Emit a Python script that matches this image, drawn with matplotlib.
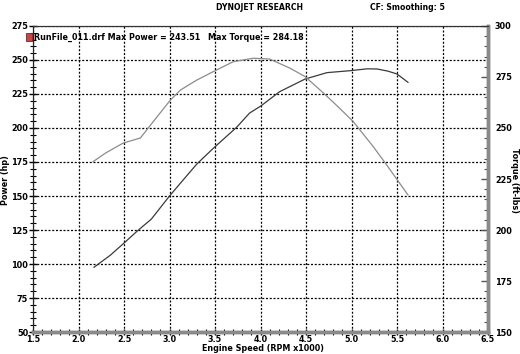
import matplotlib
matplotlib.use("Agg")
import matplotlib.pyplot as plt
from matplotlib.ticker import MultipleLocator

# courbe puissance (hp)
rpm_power = [2.17, 2.35, 2.5, 2.65, 2.8, 3.0, 3.15, 3.3, 3.48, 3.74, 3.88, 4.0, 4.21,
             4.49, 4.73, 4.98, 5.17, 5.28, 5.4, 5.5, 5.62]
power_hp = [97.6, 106.5, 115.4, 124.5, 133.0, 150.0, 161.8, 173.5, 185.0, 200.7, 211.0,
            216.0, 226.7, 236.0, 240.7, 242.1, 243.5, 243.4, 241.8, 239.7, 233.6]

# courbe couple (ft-lbs)
rpm_torque = [2.16, 2.3, 2.49, 2.68, 2.81, 3.01, 3.12, 3.3, 3.48, 3.7, 3.92, 4.1, 4.32,
              4.49, 4.69, 4.85, 5.02, 5.24, 5.36, 5.48, 5.62]
torque_ftlb = [233.5, 237.8, 242.6, 245.1, 252.5, 263.7, 268.6, 273.5, 277.6, 282.5, 284.2,
               283.8, 279.4, 275.2, 267.2, 260.5, 253.1, 240.8, 233.5, 226.0, 217.2]

fig = plt.figure(figsize=(5.2, 3.54), dpi=100)
ax = fig.add_axes([0.0635, 0.0621, 0.875, 0.8645])
ax2 = ax.twinx()

ax.plot(rpm_power, power_hp, color="#3a3a3a", lw=0.9)
ax2.plot(rpm_torque, torque_ftlb, color="#8c8c8c", lw=0.9)

ax.set_xlim(1.5, 6.5)
ax.set_ylim(50, 275)
ax2.set_ylim(150, 300)

ax.xaxis.set_major_locator(MultipleLocator(0.5))
ax.xaxis.set_minor_locator(MultipleLocator(0.1))
ax.yaxis.set_major_locator(MultipleLocator(25))
ax.yaxis.set_minor_locator(MultipleLocator(5))
ax2.yaxis.set_major_locator(MultipleLocator(25))
ax2.yaxis.set_minor_locator(MultipleLocator(5))
ax.xaxis.set_major_formatter(plt.FuncFormatter(lambda v, p: "%.1f" % v))

ax.grid(True, which="major", color="black", linestyle=(0, (1.6, 1.4)), lw=0.9)

ax.tick_params(axis="x", which="major", direction="inout", length=5, width=1,
               labelsize=5.8, pad=-0.5)
ax.tick_params(axis="y", which="major", direction="inout", length=6, width=1,
               labelsize=5.9, pad=0.5)
ax.tick_params(axis="both", which="minor", direction="inout", length=4, width=0.8)
ax2.tick_params(axis="y", which="major", direction="in", length=5, width=1,
                labelsize=5.9, pad=5, colors="#555555", labelcolor="black")
ax2.tick_params(axis="y", which="minor", direction="in", length=3, width=0.8,
                colors="#555555")
for lab in ax.get_xticklabels() + ax.get_yticklabels() + ax2.get_yticklabels():
    lab.set_fontweight("bold")

for a in (ax, ax2):
    a.spines["left"].set_color("#222222")
    a.spines["top"].set_color("#333333")
    a.spines["right"].set_color("#8a8a8a")
    a.spines["right"].set_linewidth(2.5)
    a.spines["bottom"].set_color("#8a8a8a")
    a.spines["bottom"].set_linewidth(2.5)

# titres des axes
fig.text(0.505, 0.016, "Engine Speed (RPM x1000)", fontsize=5.8, fontweight="bold",
         ha="center", va="center")
fig.text(0.011, 0.49, "Power (hp)", fontsize=5.8, fontweight="bold", rotation=90,
         ha="center", va="center")
fig.text(0.99, 0.49, "Torque (ft-lbs)", fontsize=5.8, fontweight="bold", rotation=-90,
         ha="center", va="center")

fig.text(0.5, 0.978, "DYNOJET RESEARCH", fontsize=5.6, fontweight="bold",
         ha="center", va="center")
fig.text(0.712, 0.978, "CF: Smoothing: 5", fontsize=5.6, fontweight="bold",
         ha="left", va="center")

# legende
fig.patches.append(plt.Rectangle((0.05, 0.884), 0.011, 0.024, transform=fig.transFigure,
                                 facecolor="#c04848", edgecolor="#802020", lw=0.6))
fig.text(0.065, 0.895, "RunFile_011.drf Max Power = 243.51", fontsize=5.8,
         fontweight="bold", ha="left", va="center")
fig.text(0.4, 0.895, "Max Torque = 284.18", fontsize=5.8, fontweight="bold",
         ha="left", va="center")

fig.savefig("out.png", dpi=100)
